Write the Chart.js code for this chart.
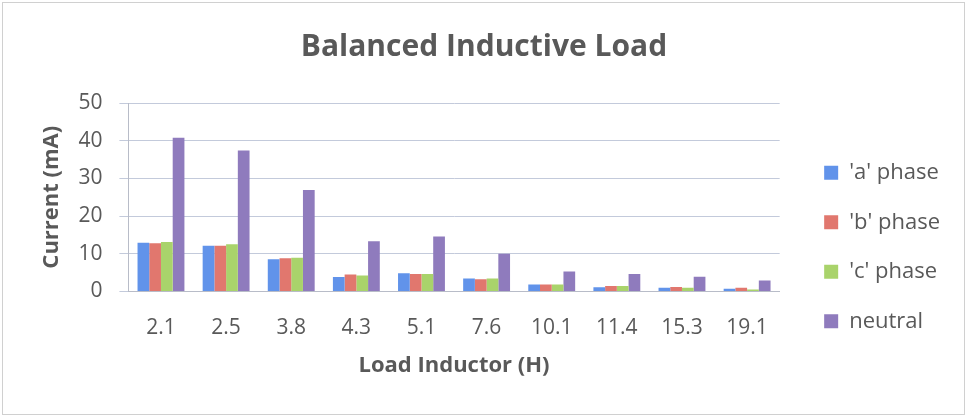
<!DOCTYPE html>
<html>
<head>
<meta charset="utf-8">
<script src="https://cdn.jsdelivr.net/npm/chart.js@4/dist/chart.umd.min.js"></script>
<style>
    html, body { margin: 0; padding: 0; background: #fff; }
    #frame {
        position: absolute; left: 2px; top: 2px;
        width: 963px; height: 413px;
        border: 1px solid #d0d0d0;
        box-sizing: border-box;
    }
    #chartBox { position: absolute; left: 0; top: 0; width: 961px; height: 411px; }
</style>
</head>
<body>
<div id="frame"><div id="chartBox"><canvas id="loadChart"></canvas></div></div>
<script>
// Chart data
const inductors = ["2.1", "2.5", "3.8", "4.3", "5.1", "7.6", "10.1", "11.4", "15.3", "19.1"];
const phaseA = [12.9, 12.1, 8.5, 3.8, 4.8, 3.4, 1.8, 1.1, 1.0, 0.7];
const phaseB = [12.8, 12.1, 8.8, 4.5, 4.6, 3.2, 1.8, 1.4, 1.2, 1.0];
const phaseC = [13.1, 12.5, 8.9, 4.2, 4.6, 3.4, 1.8, 1.4, 1.0, 0.5];
const neutral = [40.8, 37.4, 26.9, 13.3, 14.6, 10.0, 5.3, 4.6, 3.9, 2.9];
const yTicks = [0, 10, 20, 30, 40, 50];

const textColor = "#595959";
const fontFamily = "'Open Sans', 'Noto Sans', sans-serif";

// nudge the legend a bit right / down, like the original
const legendShift = {
    id: "legendShift",
    afterLayout(chart) {
        chart.legend.left += 17;
        chart.legend.right += 17;
        chart.legend.top += 49;
        chart.legend.bottom += 49;
    },
};

document.addEventListener("DOMContentLoaded", () => {
    renderChart();
});

function renderChart() {
    const ctx = document.getElementById("loadChart").getContext("2d");

    new Chart(ctx, {
        type: "bar",
        data: {
            labels: inductors,
            datasets: [
                { label: "'a' phase", data: phaseA, backgroundColor: "#6193ea" },
                { label: "'b' phase", data: phaseB, backgroundColor: "#e1776e" },
                { label: "'c' phase", data: phaseC, backgroundColor: "#a9d36b" },
                { label: "neutral", data: neutral, backgroundColor: "#8f7bbd" },
            ],
        },
        plugins: [legendShift],
        options: {
            responsive: true,
            maintainAspectRatio: false,
            animation: false,
            layout: { padding: { left: 32, right: 31, top: 10, bottom: 31 } },
            datasets: {
                bar: { barPercentage: 1.0, categoryPercentage: 0.72 },
            },
            plugins: {
                title: {
                    display: true,
                    text: "Balanced Inductive Load",
                    color: textColor,
                    font: { family: fontFamily, size: 30, weight: "bold" },
                    padding: { top: 16, bottom: 38 },
                },
                legend: {
                    position: "right",
                    labels: {
                        color: textColor,
                        font: { family: fontFamily, size: 22 },
                        boxWidth: 14,
                        boxHeight: 14,
                        padding: 27.5,
                    },
                },
                tooltip: { enabled: false },
            },
            scales: {
                x: {
                    grid: { display: false },
                    border: { display: true, color: "#b8bcc8" },
                    ticks: {
                        color: textColor,
                        font: { family: fontFamily, size: 21 },
                        padding: 16,
                    },
                    title: {
                        display: true,
                        text: "Load Inductor (H)",
                        color: textColor,
                        font: { family: fontFamily, size: 22, weight: "bold" },
                        padding: { top: -4, bottom: 4 },
                    },
                },
                y: {
                    min: 0,
                    max: 50,
                    afterBuildTicks: axis => {
                        axis.ticks = yTicks.map(v => ({ value: v }));
                    },
                    grid: { color: "#c3cadb", tickLength: 9 },
                    border: { display: true, color: "#b8bcc8" },
                    ticks: {
                        color: textColor,
                        font: { family: fontFamily, size: 21 },
                        padding: 17,
                    },
                    title: {
                        display: true,
                        text: "Current (mA)",
                        color: textColor,
                        font: { family: fontFamily, size: 22, weight: "bold" },
                        padding: { top: 4, bottom: -4 },
                    },
                },
            },
        },
    });
}
</script>
</body>
</html>
